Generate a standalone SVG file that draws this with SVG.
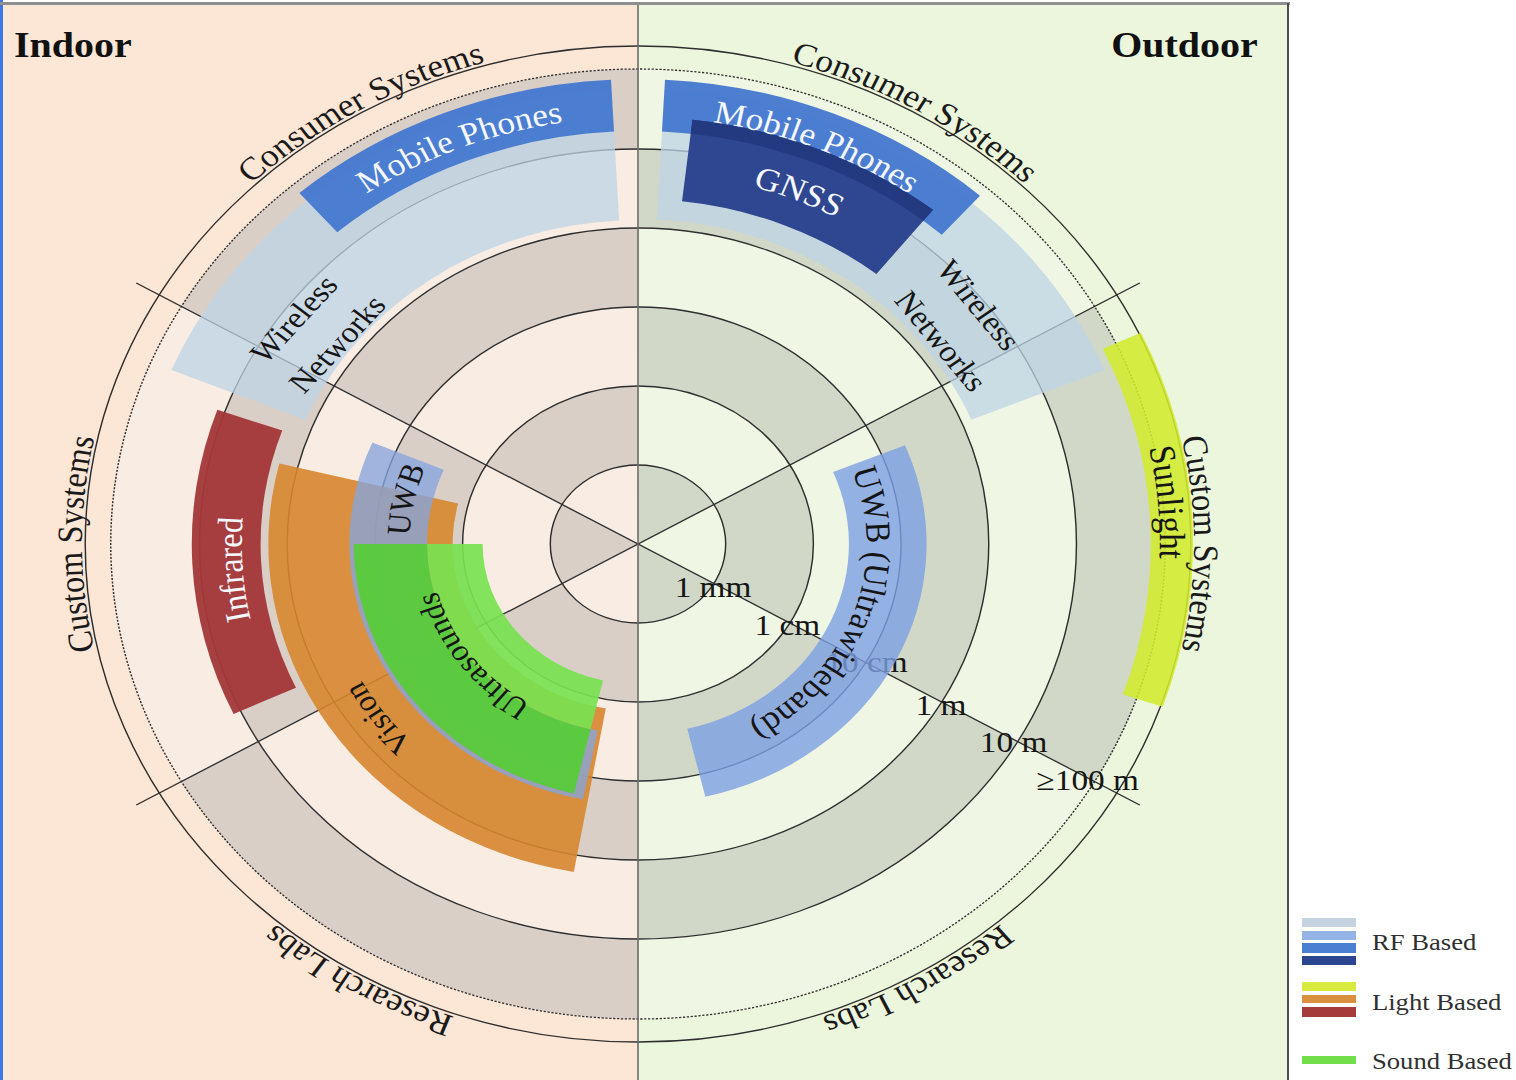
<svg xmlns="http://www.w3.org/2000/svg" width="1516" height="1080" viewBox="0 0 1516 1080">
<style>
  text { font-family: "Liberation Serif", "Times New Roman", serif; }
  .ring { fill: none; stroke: #000; stroke-opacity: 0.12; }
  .circ { fill: none; stroke: #2e2e2e; stroke-width: 1.3; }
  .div { stroke: #2e2e2e; stroke-width: 1.3; }
  .outer { font-size: 32px; fill: #1a1a1a; text-anchor: middle; }
  .band-w { font-size: 32px; fill: #f6f8ff; text-anchor: middle; }
  .band-k { font-size: 30px; fill: #151515; text-anchor: middle; }
  .scale { font-size: 30px; fill: #151515; }
  .legend { font-size: 24px; fill: #303030; }
</style>
<defs>
  <path id="arc501" d="M 0,501 A 501 501 0 1 1 0,-501 A 501 501 0 1 1 0,501"/>
  <path id="arc427" d="M 0,427 A 427 427 0 1 1 0,-427 A 427 427 0 1 1 0,427"/>
  <path id="arc372" d="M 0,372 A 372 372 0 1 1 0,-372 A 372 372 0 1 1 0,372"/>
  <path id="arc470" d="M 0,470 A 470 470 0 1 1 0,-470 A 470 470 0 1 1 0,470"/>
  <path id="arc357" d="M 0,357 A 357 357 0 1 1 0,-357 A 357 357 0 1 1 0,357"/>
  <path id="arc284" d="M 0,284 A 284 284 0 1 1 0,-284 A 284 284 0 1 1 0,284"/>
  <path id="arc206" d="M 0,206 A 206 206 0 1 1 0,-206 A 206 206 0 1 1 0,206"/>
  <path id="arc187" d="M 0,187 A 187 187 0 1 1 0,-187 A 187 187 0 1 1 0,187"/>
</defs>

<g id="backdrop">
  <rect x="0" y="0" width="1516" height="1080" fill="#ffffff"/>
  <rect x="3" y="5" width="635" height="1075" fill="#fce6d5"/>
  <rect x="638" y="5" width="650" height="1075" fill="#ecf6dc"/>
  <rect x="0" y="0" width="3" height="1080" fill="#3b78e7"/>
  <rect x="0" y="2" width="1290" height="3" fill="#8f8f8f"/>
  <line x1="1288" y1="3" x2="1288" y2="1080" stroke="#4d4d4d" stroke-width="2"/>
</g>

<g id="chart" transform="translate(638 544) scale(1.11 1)">
  <g id="rings">
    <path d="M 0,-475 A 475 475 0 0 0 0,475 Z" fill="#f8ece3"/>
    <path d="M 0,-475 A 475 475 0 0 1 0,475 Z" fill="#f0f6e4"/>
    <circle class="ring" r="39.5" stroke-width="79" stroke-dasharray="41.364" stroke-dashoffset="62.046"/>
    <circle class="ring" r="118.5" stroke-width="79" stroke-dasharray="124.093" stroke-dashoffset="62.046"/>
    <circle class="ring" r="197.5" stroke-width="79" stroke-dasharray="206.821" stroke-dashoffset="310.232"/>
    <circle class="ring" r="276.5" stroke-width="79" stroke-dasharray="289.550" stroke-dashoffset="144.775"/>
    <circle class="ring" r="355.5" stroke-width="79" stroke-dasharray="372.279" stroke-dashoffset="558.419"/>
    <circle class="ring" r="435" stroke-width="80" stroke-dasharray="455.531" stroke-dashoffset="227.765"/>
    <circle class="circ" r="79"/>
    <circle class="circ" r="158"/>
    <circle class="circ" r="237"/>
    <circle class="circ" r="316"/>
    <circle class="circ" r="395"/>
    <circle class="circ" r="475" stroke-dasharray="2 1.5" stroke-width="1.2"/>
    <circle class="circ" r="498" stroke-width="1.6"/>
  </g>

  <g id="connectors">
    <line class="div" x1="-452" y1="-261" x2="452" y2="261"/>
    <line class="div" x1="-452" y1="261" x2="452" y2="-261"/>
  </g>

  <g id="scale-labels">
    <text class="scale" x="33" y="53">1 mm</text>
    <text class="scale" x="105" y="91">1 cm</text>
    <text class="scale" x="243" y="128" text-anchor="end">10 cm</text>
    <text class="scale" x="250" y="171">1 m</text>
    <text class="scale" x="308" y="208">10 m</text>
    <text class="scale" x="359" y="246">≥100 m</text>
  </g>

  <g id="bands">
    <g id="wireless-indoor">
      <path d="M -23.81,-454.38 A 455 455 0 0 0 -420.37,-174.12 L -299.34,-123.99 A 324 324 0 0 1 -16.96,-323.56 Z" fill="#bed4e6" fill-opacity="0.75"/>
    </g>
    <g id="mobile-indoor">
      <path d="M -24.34,-464.36 A 465 465 0 0 0 -305.07,-350.94 L -270.95,-311.70 A 413 413 0 0 1 -21.62,-412.43 Z" fill="#4679cf" fill-opacity="0.96"/>
    </g>
    <g id="infrared">
      <path d="M -378.94,-134.19 A 402 402 0 0 0 -364.34,169.89 L -308.15,143.69 A 340 340 0 0 1 -320.50,-113.50 Z" fill="#a3383a" fill-opacity="0.96"/>
    </g>
    <g id="vision">
      <path d="M -323.11,-80.56 A 333 333 0 0 0 -57.83,327.94 L -29.00,164.46 A 167 167 0 0 1 -162.04,-40.40 Z" fill="#d6862d" fill-opacity="0.9"/>
    </g>
    <g id="uwb-indoor">
      <path d="M -239.33,-101.59 A 260 260 0 0 0 -49.61,255.22 L -36.25,186.51 A 190 190 0 0 1 -174.90,-74.24 Z" fill="#86a4dc" fill-opacity="0.78"/>
    </g>
    <g id="ultrasounds">
      <path d="M -256,0 A 256 256 0 0 0 -57.59,249.44 L -42.74,185.13 A 190 190 0 0 1 -190,0 Z" fill="#58cc38" fill-opacity="0.94"/>
      <path d="M -190,0 A 190 190 0 0 0 -42.74,185.13 L -31.49,136.41 A 140 140 0 0 1 -140,0 Z" fill="#78e250" fill-opacity="0.92"/>
    </g>
    <g id="wireless-outdoor">
      <path d="M 420.37,-174.12 A 455 455 0 0 0 23.81,-454.38 L 17.01,-324.55 A 325 325 0 0 1 300.26,-124.37 Z" fill="#bed4e6" fill-opacity="0.75"/>
    </g>
    <g id="mobile-outdoor">
      <path d="M 308.12,-348.27 A 465 465 0 0 0 24.34,-464.36 L 21.62,-412.43 A 413 413 0 0 1 273.66,-309.32 Z" fill="#4679cf" fill-opacity="0.96"/>
    </g>
    <g id="gnss">
      <path d="M 265.81,-334.17 A 427 427 0 0 0 49.08,-424.17 L 39.65,-342.71 A 345 345 0 0 1 214.77,-270.00 Z" fill="#2f4691"/>
      <path d="M 265.81,-334.17 A 427 427 0 0 0 49.08,-424.17 L 47.47,-410.26 A 413 413 0 0 1 257.10,-323.22 Z" fill="#233980"/>
    </g>
    <g id="uwb-outdoor">
      <path d="M 60.70,252.82 A 260 260 0 0 0 240.55,-98.66 L 175.79,-72.10 A 190 190 0 0 1 44.36,184.75 Z" fill="#7da0e4" fill-opacity="0.8"/>
    </g>
    <g id="sunlight">
      <path d="M 472.76,162.79 A 500 500 0 0 0 453.16,-211.31 L 418.72,-195.25 A 462 462 0 0 1 436.83,150.41 Z" fill="#d2ea2e" fill-opacity="0.88"/>
    </g>
  </g>

  <g id="band-labels">
    <text class="band-w"><textPath href="#arc427" startOffset="43.889%">Mobile Phones</textPath></text>
    <text class="band-w"><textPath href="#arc427" startOffset="56.111%">Mobile Phones</textPath></text>
    <text class="band-w"><textPath href="#arc372" startOffset="56.222%">GNSS</textPath></text>
    <text class="band-w"><textPath href="#arc357" startOffset="23.889%">Infrared</textPath></text>
    <text class="band-k"><textPath href="#arc206" startOffset="28.333%">UWB</textPath></text>
    <text class="band-k"><textPath href="#arc284" startOffset="14.833%">Vision</textPath></text>
    <text class="band-k" fill="#12300c"><textPath href="#arc187" startOffset="14.778%">Ultrasounds</textPath></text>
    <text class="band-k" style="font-size:32px"><textPath href="#arc206" startOffset="80.556%">UWB (Ultrawideband)</textPath></text>
    <text class="band-k" style="font-size:33px"><textPath href="#arc470" startOffset="73.611%">Sunlight</textPath></text>
    <text class="band-k" transform="translate(-310 -225) rotate(-50)" y="10">Wireless</text>
    <text class="band-k" transform="translate(-271 -200) rotate(-50)" y="10">Networks</text>
    <text class="band-k" transform="translate(307 -239) rotate(53)" y="10">Wireless</text>
    <text class="band-k" transform="translate(273 -203) rotate(53)" y="10">Networks</text>
  </g>

  <g id="sector-labels">
    <text class="outer"><textPath href="#arc501" startOffset="41.667%">Consumer Systems</textPath></text>
    <text class="outer"><textPath href="#arc501" startOffset="58.333%">Consumer Systems</textPath></text>
    <text class="outer"><textPath href="#arc501" startOffset="25%">Custom Systems</textPath></text>
    <text class="outer"><textPath href="#arc501" startOffset="75%">Custom Systems</textPath></text>
    <text class="outer"><textPath href="#arc501" startOffset="8.333%">Research Labs</textPath></text>
    <text class="outer"><textPath href="#arc501" startOffset="91.667%">Research Labs</textPath></text>
  </g>
</g>

<line id="indoor-outdoor-divider" x1="638" y1="5" x2="638" y2="1080" stroke="#6b6b6b" stroke-width="1.6"/>

<g id="titles" transform="scale(1.11 1)">
  <text x="12.6" y="57" font-size="36" font-weight="bold" fill="#111">Indoor</text>
  <text x="1133" y="57" font-size="36" font-weight="bold" fill="#111" text-anchor="end">Outdoor</text>
</g>

<g id="legend">
  <rect x="1302" y="918" width="54" height="9" fill="#c5d3e0"/>
  <rect x="1302" y="931" width="54" height="9" fill="#94b4e6"/>
  <rect x="1302" y="943" width="54" height="10" fill="#4b7fd2"/>
  <rect x="1302" y="956" width="54" height="9" fill="#2c4590"/>
  <rect x="1302" y="982" width="54" height="9" fill="#d8ea3e"/>
  <rect x="1302" y="995" width="54" height="8" fill="#d9903f"/>
  <rect x="1302" y="1007" width="54" height="10" fill="#a53b3b"/>
  <rect x="1302" y="1056" width="54" height="8" fill="#72de4a"/>
  <g transform="scale(1.11 1)">
    <text class="legend" x="1236" y="950">RF Based</text>
    <text class="legend" x="1236" y="1010">Light Based</text>
    <text class="legend" x="1236" y="1069">Sound Based</text>
  </g>
</g>
</svg>
